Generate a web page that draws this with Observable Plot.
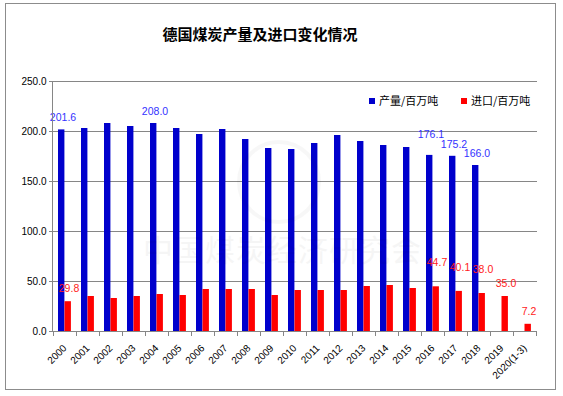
<!DOCTYPE html>
<html><head><meta charset="utf-8">
<script src="https://cdn.jsdelivr.net/npm/d3@7"></script>
<script src="https://cdn.jsdelivr.net/npm/@observablehq/plot@0.6"></script>
<style>
body{margin:0;background:#fff;}
#wrap{position:relative;width:563px;height:396px;overflow:hidden;}
#border{position:absolute;left:5px;top:3px;width:549px;height:385px;border:1px solid #8c8c8c;pointer-events:none;}
#title{position:absolute;left:0;width:520px;top:24px;text-align:center;font:bold 15px "Noto Sans CJK SC",sans-serif;color:#000;line-height:20px;}
.leg{position:absolute;top:92px;font:11px "Noto Sans CJK SC",sans-serif;color:#000;line-height:16px;}
.leg i{display:inline-block;width:6px;height:6px;margin-right:4px;vertical-align:1px;}
#wm{position:absolute;left:143px;top:226px;font:30px "Noto Sans CJK SC",sans-serif;color:#000;opacity:0.035;letter-spacing:1px;white-space:nowrap;pointer-events:none;}
#logo{position:absolute;left:237px;top:140px;width:76px;height:76px;border:4px solid #000;border-radius:50%;opacity:0.03;pointer-events:none;}
#chart{position:absolute;left:0;top:0;}
</style>
</head><body>
<div id="wrap">
  <div id="chart"></div>
  <div id="title">德国煤炭产量及进口变化情况</div>
  <div class="leg" style="left:369px"><i style="background:#0000cc"></i>产量/百万吨</div>
  <div class="leg" style="left:461px"><i style="background:#ff0000"></i>进口/百万吨</div>
  <div id="logo"></div>
  <div id="wm">中国煤炭经济研究会</div>
  <div id="border"></div>
</div>
<script>
const years = ["2000","2001","2002","2003","2004","2005","2006","2007","2008","2009","2010","2011","2012","2013","2014","2015","2016","2017","2018","2019","2020(1-3)"];
const production = [201.6,203,208,205,208.0,203,197,202,192,183,182,188,196,190,186,184,176.1,175.2,166.0,null,null];
const imports = [29.8,35,33,35,37,36,42,42,42,36,41,41,41,45,46,43,44.7,40.1,38.0,35.0,7.2];
const prodLabelYears = ["2000","2004","2016","2017","2018"];
const impLabelYears = ["2000","2016","2017","2018","2019","2020(1-3)"];
const yTicks = [0,50,100,150,200,250];

const W = 563, H = 396, mL = 52, mR = 26, mT = 81, mB = 65;
const bw = (W - mL - mR) / years.length;

const prod = years.map((y,i)=>({year:y, value:production[i]})).filter(d=>d.value!=null);
const imp = years.map((y,i)=>({year:y, value:imports[i]})).filter(d=>d.value!=null);

// lift a label when the next labelled bar is adjacent and of similar height (avoid collisions)
function withLift(rows, labelYears) {
  const lab = rows.filter(d=>labelYears.includes(d.year));
  return lab.map((d,i)=>{
    const n = lab[i+1];
    const adj = n && years.indexOf(n.year) - years.indexOf(d.year) === 1 && Math.abs(n.value - d.value) < 8;
    return {...d, lift: adj};
  });
}
const prodLab = withLift(prod, prodLabelYears);
const impLab = withLift(imp, impLabelYears);

function axisLines(index, scales, values, dims) {
  const g = d3.create("svg:g").attr("stroke","#868686").attr("stroke-width",1).attr("fill","none");
  const x0 = dims.marginLeft, x1 = dims.width - dims.marginRight;
  const yb = dims.height - dims.marginBottom, yt = dims.marginTop;
  g.append("line").attr("x1",x0+0.5).attr("x2",x0+0.5).attr("y1",yt).attr("y2",yb);
  g.append("line").attr("x1",x0).attr("x2",x1).attr("y1",yb+0.5).attr("y2",yb+0.5);
  const xs = years.map(c=>scales.x(c)).concat([scales.x(years[years.length-1]) + bw]);
  for (const x of xs) {
    const px = Math.round(x) + 0.5;
    g.append("line").attr("x1",px).attr("x2",px).attr("y1",yb).attr("y2",yb+5);
  }
  return g.node();
}

const font = "Liberation Sans, Arial, sans-serif";
const chart = Plot.plot({
  width: W, height: H,
  marginLeft: mL, marginRight: mR, marginTop: mT, marginBottom: mB,
  style: {fontFamily: font, fontSize: "10px", color: "#000", background: "transparent"},
  x: {type: "band", domain: years, padding: 0},
  y: {domain: [0, 250]},
  marks: [
    Plot.gridY(yTicks.filter(v=>v>0), {stroke: "#868686", strokeOpacity: 1}),
    Plot.barY(prod, {x: "year", y: "value", fill: "#0000cc", insetLeft: 5, insetRight: bw - 11.5}),
    Plot.barY(imp, {x: "year", y: "value", fill: "#ff0000", insetLeft: 11.5, insetRight: bw - 18}),
    Plot.text(prodLab.filter(d=>!d.lift), {x: "year", y: "value", text: d=>d.value.toFixed(1), fill: "#3333ff", dy: -12, dx: -2, fontSize: 10.5}),
    Plot.text(prodLab.filter(d=>d.lift), {x: "year", y: "value", text: d=>d.value.toFixed(1), fill: "#3333ff", dy: -21, dx: -2, fontSize: 10.5}),
    Plot.text(impLab.filter(d=>!d.lift), {x: "year", y: "value", text: d=>d.value.toFixed(1), fill: "#ff1a1a", dy: -13, dx: 4, fontSize: 10.5}),
    Plot.text(impLab.filter(d=>d.lift), {x: "year", y: "value", text: d=>d.value.toFixed(1), fill: "#ff1a1a", dy: -24, dx: 4, fontSize: 10.5}),
    Plot.axisY({ticks: yTicks, tickFormat: d=>d.toFixed(1), tickSize: 3, tickPadding: 3, stroke: "#868686", fill: "#000", label: null, fontSize: 10}),
    Plot.axisX({tickRotate: -45, tickSize: 0, tickPadding: 15, fill: "#000", label: null, fontSize: 10}),
    axisLines
  ]
});
document.getElementById("chart").appendChild(chart);
</script>
</body></html>
